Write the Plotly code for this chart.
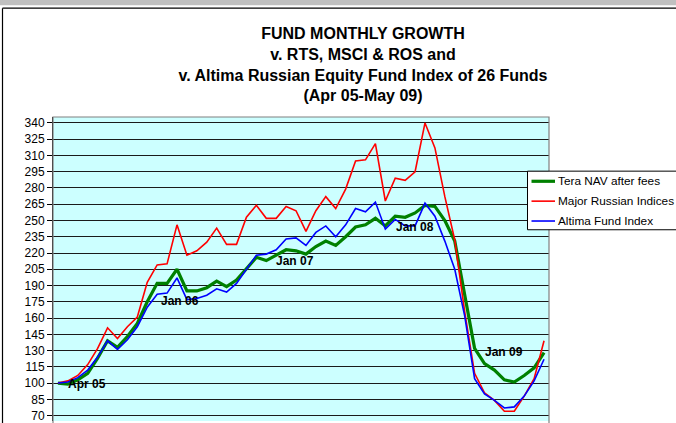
import plotly.graph_objects as go

months = ["Apr 05", "May 05", "Jun 05", "Jul 05", "Aug 05", "Sep 05", "Oct 05", "Nov 05", "Dec 05",
          "Jan 06", "Feb 06", "Mar 06", "Apr 06", "May 06", "Jun 06", "Jul 06", "Aug 06", "Sep 06",
          "Oct 06", "Nov 06", "Dec 06",
          "Jan 07", "Feb 07", "Mar 07", "Apr 07", "May 07", "Jun 07", "Jul 07", "Aug 07", "Sep 07",
          "Oct 07", "Nov 07", "Dec 07",
          "Jan 08", "Feb 08", "Mar 08", "Apr 08", "May 08", "Jun 08", "Jul 08", "Aug 08", "Sep 08",
          "Oct 08", "Nov 08", "Dec 08",
          "Jan 09", "Feb 09", "Mar 09", "Apr 09", "May 09"]

tera_nav = [100, 99, 103, 109, 123, 139, 133, 143, 155, 175, 192, 192, 205, 185, 185, 188, 194, 189,
            195, 206, 216, 213, 218, 223, 222, 219, 226, 231, 227, 235, 244, 246, 252, 245, 254, 253,
            257, 264, 263, 250, 231, 183, 132, 118, 112, 103, 101, 107, 114, 128]

major_indices = [100, 102, 107, 117, 132, 151, 141, 152, 161, 193, 209, 210, 246, 218, 222, 230, 243, 228,
                 228, 253, 264, 252, 252, 263, 259, 240, 259, 272, 261, 279, 305, 306, 321, 268, 289, 287,
                 295, 340, 317, 272, 232, 166, 109, 91, 84, 74, 74, 88, 104, 139]

altima_index = [100, 101, 105, 112, 124, 139, 131, 140, 152, 170, 182, 183, 197, 177, 178, 181, 187, 184,
                192, 205, 218, 219, 223, 233, 234, 227, 239, 245, 235, 246, 261, 258, 267, 242, 251, 245,
                245, 266, 254, 231, 205, 162, 104, 90, 84, 77, 78, 88, 102, 122]

series_names = ["Tera NAV after fees", "Major Russian Indices", "Altima Fund Index"]
series_values = [tera_nav, major_indices, altima_index]
series_colors = ["#008000", "#FF0000", "#0000FF"]
series_widths = [3.2, 1.6, 1.6]

y_ticks = list(range(70, 341, 15))

label_text = ["Apr 05", "Jan 06", "Jan 07", "Jan 08", "Jan 09"]
label_x = [0.85, 10.2, 21.8, 33.9, 42.8]
label_y = [99, 175.7, 213, 243.6, 128.9]

W, H = 676, 423
L, R, T, B = 53, 127, 117, 0
FONT = "Liberation Sans, Arial, sans-serif"

pw = W - L - R
ph = H - T - B

def px_x(p):
    return (p - L) / pw

def px_y(p):
    return (H - B - p) / ph

fig = go.Figure()
for name, vals, col, wd in zip(series_names, series_values, series_colors, series_widths):
    fig.add_trace(go.Scatter(x=months, y=vals, mode="lines", name=name, showlegend=False,
                             line=dict(color=col, width=wd)))

for t, x, y in zip(label_text, label_x, label_y):
    fig.add_annotation(x=x, y=y, text="<b>%s</b>" % t, showarrow=False, xanchor="left",
                       yanchor="middle", font=dict(family=FONT, size=12, color="black"))

shapes = [
    dict(type="rect", xref="paper", yref="paper", x0=px_x(-5), x1=px_x(W + 5), y0=px_y(4.5), y1=px_y(-5),
         fillcolor="#c0c0c0", line=dict(width=0), layer="above"),
    dict(type="line", xref="paper", yref="paper", x0=px_x(2.5), x1=px_x(W + 5), y0=px_y(7.5), y1=px_y(7.5),
         line=dict(color="black", width=1.2)),
    dict(type="line", xref="paper", yref="paper", x0=px_x(2.5), x1=px_x(2.5), y0=px_y(7.5), y1=px_y(H + 5),
         line=dict(color="black", width=1.2)),
    dict(type="rect", xref="paper", yref="paper", x0=0, x1=1, y0=-0.01, y1=1,
         line=dict(color="#808080", width=1.2), layer="above"),
    # legend box
    dict(type="rect", xref="paper", yref="paper", x0=px_x(527.5), x1=px_x(W + 20), y0=px_y(230.5),
         y1=px_y(171.5), fillcolor="white", line=dict(color="black", width=1), layer="above"),
]

legend_rows = [181.7, 201.7, 221.7]
for name, col, wd, ry in zip(series_names, series_colors, series_widths, legend_rows):
    shapes.append(dict(type="line", xref="paper", yref="paper", x0=px_x(531.5), x1=px_x(555),
                       y0=px_y(ry), y1=px_y(ry), line=dict(color=col, width=wd), layer="above"))
    fig.add_annotation(xref="paper", yref="paper", x=px_x(557), y=px_y(ry), text=name, showarrow=False,
                       xanchor="left", yanchor="middle", borderpad=0,
                       font=dict(family=FONT, size=11.8, color="black"))

fig.update_layout(
    width=W, height=H,
    margin=dict(l=L, r=R, t=T, b=B, pad=0),
    paper_bgcolor="white",
    plot_bgcolor="#CCFFFF",
    showlegend=False,
    title=dict(text="<b>FUND MONTHLY GROWTH<br>v. RTS, MSCI & ROS and<br>"
                    "v. Altima Russian Equity Fund Index of 26 Funds<br>(Apr 05-May 09)</b>",
               x=363 / W, xanchor="center", y=1 - 39 / H, yanchor="top", xref="container", yref="container",
               font=dict(family=FONT, size=16, color="black")),
    shapes=shapes,
    xaxis=dict(type="category", range=[-0.5, 49.5], showticklabels=False, showgrid=False,
               showline=False, zeroline=False, ticks=""),
    yaxis=dict(range=[65, 345.5], tickvals=y_ticks, ticks="outside", ticklen=5, tickcolor="black",
               showline=True, linecolor="black", linewidth=1, showgrid=True, gridcolor="#1a1a1a",
               gridwidth=1, zeroline=False, ticklabeloverflow="allow",
               tickfont=dict(family=FONT, size=12, color="black"), tickprefix="<b>", ticksuffix="</b>"),
)

fig.write_html("out.html", config={"displayModeBar": False},
               post_script="document.body.style.margin='0px';document.body.style.overflow='hidden';")
